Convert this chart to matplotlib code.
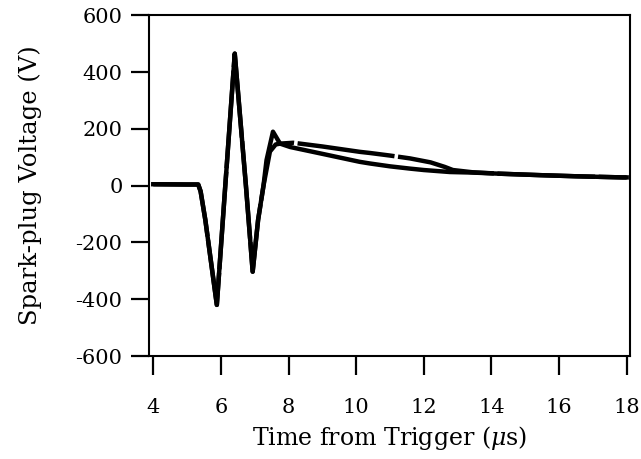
import matplotlib
matplotlib.use("Agg")
import matplotlib.pyplot as plt

plt.rcParams['font.family'] = ['DejaVu Serif']
plt.rcParams['mathtext.fontset'] = 'dejavuserif'

# Solid trace
t_solid = [4.0, 5.0, 5.33, 5.40, 5.54, 5.88, 6.13, 6.41, 6.74, 6.94, 7.10, 7.26,
           7.45, 7.62, 7.75, 8.05, 9.0, 10.1, 10.41, 11.0, 11.59, 12.0, 12.77,
           13.45, 14.25, 15.43, 16.5, 17.88, 18.0]
v_solid = [5, 4, 4, -20, -121, -420, 0, 465, 0, -303, -121, 0,
           120, 145, 148, 136, 112, 84, 78, 68, 60, 55, 48,
           46, 42, 37, 33, 29, 29]

# Dashed trace
t_dash = [4.0, 5.0, 5.33, 5.40, 5.54, 5.88, 6.13, 6.41, 6.74, 6.94, 7.10, 7.26,
          7.35, 7.54, 7.75, 8.14, 9.0, 10.11, 10.41, 11.0, 11.59, 12.2, 12.62,
          12.86, 13.45, 14.25, 15.43, 16.5, 17.88, 18.0]
v_dash = [5, 4, 4, -20, -121, -420, 0, 465, 0, -303, -121, 0,
          90, 190, 148, 151, 138, 119, 115, 106, 96, 82, 66,
          55, 47, 42, 37, 33, 29, 29]

x_ticks = [4, 6, 8, 10, 12, 14, 16, 18]
y_ticks = [-600, -400, -200, 0, 200, 400, 600]

fig = plt.figure(figsize=(6.41, 4.59), dpi=100)
ax = fig.add_axes([0.2324, 0.2244, 0.7504, 0.7423])

ax.plot(t_solid, v_solid, color='black', lw=3.2, solid_joinstyle='round')
ax.plot(t_dash, v_dash, color='black', lw=3.2, linestyle=(0, (22, 0.8)))

ax.set_xlim(3.873, 18.098)
ax.set_ylim(-600, 600)
ax.set_xticks(x_ticks)
ax.set_yticks(y_ticks)
ax.set_yticklabels([str(v) for v in y_ticks])

for s in ax.spines.values():
    s.set_linewidth(1.5)

ax.tick_params(axis='x', direction='out', length=14, width=1.6, pad=16, labelsize=15,
               bottom=True, top=False)
ax.tick_params(axis='y', direction='out', length=13, width=1.6, pad=6, labelsize=15,
               left=True, right=False)

ax.set_xlabel(r'Time from Trigger ($\mu$s)', fontsize=17, labelpad=5)
ax.set_ylabel('Spark-plug Voltage (V)', fontsize=17.5, labelpad=24)

fig.savefig('out.png', dpi=100)
